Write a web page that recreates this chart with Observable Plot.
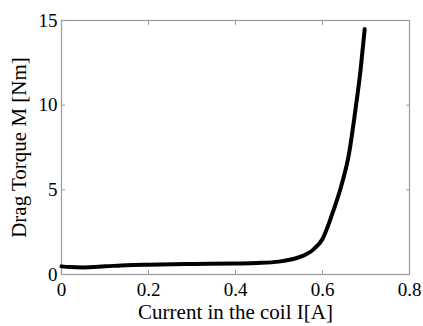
<!DOCTYPE html>
<html>
<head>
<meta charset="utf-8">
<script src="https://cdn.jsdelivr.net/npm/d3@7"></script>
<script src="https://cdn.jsdelivr.net/npm/@observablehq/plot@0.6"></script>
<style>
  html, body { margin: 0; padding: 0; background: #fff; }
  #chart svg { display: block; }
  #chart svg text, #chart svg g { font-family: "Liberation Serif", "Times New Roman", serif !important; font-variant: normal !important; }
</style>
</head>
<body>
<div id="chart"></div>
<script>
const current = [0, 0.02, 0.05, 0.1, 0.15, 0.2, 0.3, 0.4, 0.45, 0.5, 0.53, 0.55, 0.58, 0.6, 0.62, 0.645, 0.66, 0.675, 0.688, 0.697];
const torque  = [0.48, 0.44, 0.42, 0.48, 0.55, 0.58, 0.62, 0.65, 0.68, 0.76, 0.9, 1.05, 1.5, 2.1, 3.4, 5.4, 7.0, 9.6, 12.2, 14.5];
const xTicks = [0, 0.2, 0.4, 0.6, 0.8];
const yTicks = [0, 5, 10, 15];
const xLabel = "Current in the coil I[A]";
const yLabel = "Drag Torque M [Nm]";

const data = current.map((x, i) => ({x, y: torque[i]}));
const font = "Liberation Serif, Times New Roman, serif";
const grey = "#9a9a9a";

const chart = Plot.plot({
  width: 423,
  height: 326,
  marginLeft: 61,
  marginRight: 14,
  marginTop: 20,
  marginBottom: 52,
  style: {fontFamily: font, fontSize: "19px", color: "#000", background: "#fff"},
  x: {domain: [0, 0.8]},
  y: {domain: [0, 15]},
  marks: [
    Plot.frame({stroke: grey, strokeWidth: 1.2}),
    Plot.axisX(xTicks, {anchor: "bottom", tickSize: -4, tickPadding: 12, stroke: grey, fill: "#000", fontFamily: font, tickFormat: d => d === 0 ? "0" : String(d), label: null, fontSize: 19}),
    Plot.axisX(xTicks, {anchor: "top", tickSize: -4, stroke: grey, tickFormat: () => "", label: null}),
    Plot.axisY(yTicks, {anchor: "left", tickSize: -4, tickPadding: 8, stroke: grey, fill: "#000", fontFamily: font, label: null, fontSize: 19}),
    Plot.axisY(yTicks, {anchor: "right", tickSize: -4, stroke: grey, tickFormat: () => "", label: null}),
    Plot.line(data, {x: "x", y: "y", stroke: "#000", strokeWidth: 4, curve: "monotone-x"}),
    Plot.text([xLabel], {frameAnchor: "bottom", textAnchor: "middle", lineAnchor: "middle", dy: 38, fontSize: 21, fontFamily: font, fill: "#000"}),
    Plot.text([yLabel], {frameAnchor: "left", textAnchor: "middle", lineAnchor: "middle", rotate: -90, dx: -42, fontSize: 21, fontFamily: font, fill: "#000"})
  ]
});
document.getElementById("chart").appendChild(chart);
</script>
</body>
</html>
